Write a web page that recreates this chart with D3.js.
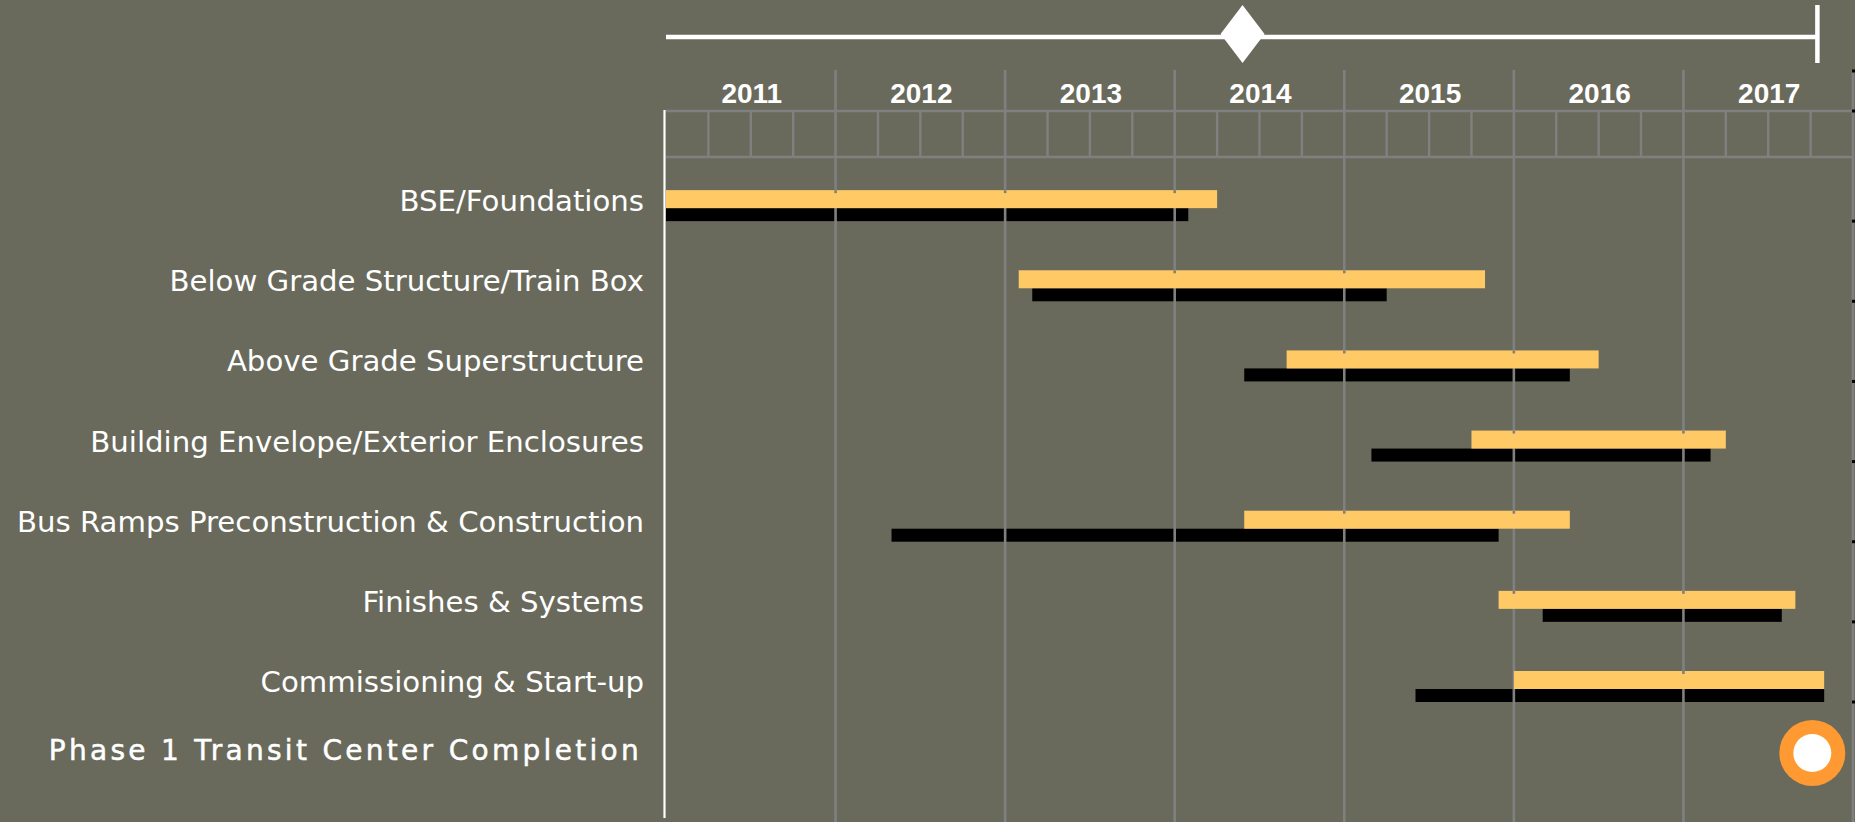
<!DOCTYPE html>
<html><head><meta charset="utf-8">
<script src="https://cdn.jsdelivr.net/npm/d3@7"></script>
<style>html,body{margin:0;padding:0;background:#696a5c;overflow:hidden}</style>
</head><body><svg id="c" width="1855" height="822"></svg>
<script>
// ---- data ----
const years = [2011, 2012, 2013, 2014, 2015, 2016, 2017];
const tasks = [
  "BSE/Foundations",
  "Below Grade Structure/Train Box",
  "Above Grade Superstructure",
  "Building Envelope/Exterior Enclosures",
  "Bus Ramps Preconstruction & Construction",
  "Finishes & Systems",
  "Commissioning & Start-up"
];
// yellow bars (upper)
const yellowStart = [2011.00, 2013.08, 2014.66, 2015.75, 2014.41, 2015.91, 2016.00];
const yellowEnd   = [2014.25, 2015.83, 2016.50, 2017.25, 2016.33, 2017.66, 2017.83];
// black bars (lower)
const blackStart  = [2011.00, 2013.16, 2014.41, 2015.16, 2012.33, 2016.17, 2015.42];
const blackEnd    = [2014.08, 2015.25, 2016.33, 2017.16, 2015.91, 2017.58, 2017.83];
const milestoneLabel = "Phase 1 Transit Center Completion";
const milestoneDate = 2017.76;
const timelineStart = 2011.00;
const timelineEnd = 2017.79;
const statusDate = 2014.40;

// ---- layout ----
const W = 1855, H = 822;
const svg = d3.select("#c");
svg.append("rect").attr("width", W).attr("height", H).attr("fill", "#696a5c");

const x = d3.scaleLinear().domain([2011, 2018]).range([666, 1853]);
const y = d3.scaleBand().domain(tasks).range([141, 702]);
const GRID = "#808080";

const rows = tasks.map((t, i) => ({
  task: t, ys: yellowStart[i], ye: yellowEnd[i], bs: blackStart[i], be: blackEnd[i]
}));

// header quarter grid
const hdrTop = 111, hdrBot = 157;
const g = svg.append("g");
[hdrTop, hdrBot].forEach(yy => {
  g.append("line").attr("x1", x(2011)).attr("x2", x(2018)).attr("y1", yy).attr("y2", yy)
    .attr("stroke", GRID).attr("stroke-width", 2.6);
});
const quarters = d3.range(0, 28).map(i => 2011 + i * 0.25).filter(q => q % 1 !== 0);
g.selectAll(".q").data(quarters).join("line")
  .attr("x1", d => x(d)).attr("x2", d => x(d)).attr("y1", hdrTop).attr("y2", hdrBot)
  .attr("stroke", GRID).attr("stroke-width", 2.4);

// year labels
g.selectAll(".yl").data(years).join("text")
  .attr("x", d => x(d + 0.5) + 1).attr("y", 103)
  .attr("text-anchor", "middle").attr("fill", "#fff")
  .attr("font-family", "'Liberation Sans', Arial, sans-serif")
  .attr("font-weight", "bold").attr("font-size", 28)
  .text(d => d);

// black bars (under gridlines)
svg.append("g").selectAll("rect").data(rows).join("rect")
  .attr("x", d => x(d.bs)).attr("width", d => x(d.be) - x(d.bs))
  .attr("y", d => y(d.task) + y.bandwidth() - 13).attr("height", 13)
  .attr("fill", "#000");

// year gridlines
const yearLines = years.slice(1).concat([2018]);
svg.append("g").selectAll("line").data(yearLines).join("line")
  .attr("x1", d => x(d)).attr("x2", d => x(d)).attr("y1", 70).attr("y2", 822)
  .attr("stroke", GRID).attr("stroke-width", 2.6);

// yellow bars
svg.append("g").selectAll("rect").data(rows).join("rect")
  .attr("x", d => x(d.ys)).attr("width", d => x(d.ye) - x(d.ys))
  .attr("y", d => y(d.task) + y.bandwidth() - 31).attr("height", 18)
  .attr("fill", "#ffca66");

// small gridline notches over the top edge of yellow bars
const notches = [];
rows.forEach(r => yearLines.forEach(yl => { if (yl > r.ys && yl < r.ye) notches.push({ yl, t: r.task }); }));
svg.append("g").selectAll("line").data(notches).join("line")
  .attr("x1", d => x(d.yl)).attr("x2", d => x(d.yl))
  .attr("y1", d => y(d.t) + y.bandwidth() - 31).attr("y2", d => y(d.t) + y.bandwidth() - 28)
  .attr("stroke", GRID).attr("stroke-width", 2.6);

// left white axis
svg.append("line").attr("x1", 664.5).attr("x2", 664.5).attr("y1", 110).attr("y2", 818)
  .attr("stroke", "#fff").attr("stroke-width", 2.2);

// task labels
svg.append("g").selectAll("text").data(rows).join("text")
  .attr("x", 644).attr("y", d => y(d.task) + y.bandwidth() - 10)
  .attr("text-anchor", "end").attr("fill", "#fff")
  .attr("font-family", "'DejaVu Sans', Verdana, sans-serif").attr("font-size", 29.2)
  .text(d => d.task);

// milestone row
const msY = y(tasks[tasks.length - 1]) + y.bandwidth() + 51;
svg.append("text").attr("x", 642).attr("y", msY + 7)
  .attr("text-anchor", "end").attr("fill", "#fff").attr("stroke", "#fff").attr("stroke-width", 0.5)
  .attr("font-family", "'DejaVu Sans', Verdana, sans-serif").attr("font-size", 28)
  .attr("letter-spacing", 3.3).text(milestoneLabel);
svg.append("circle").attr("cx", x(milestoneDate)).attr("cy", msY).attr("r", 33).attr("fill", "#ff9a33");
svg.append("circle").attr("cx", x(milestoneDate)).attr("cy", msY).attr("r", 19).attr("fill", "#fff");

// right edge ticks
const rTicks = [71, 111].concat(tasks.map(t => y(t) + y.bandwidth()));
svg.append("g").selectAll("rect").data(rTicks).join("rect")
  .attr("x", 1852).attr("y", d => d - 1.5).attr("width", 4).attr("height", 3).attr("fill", "#000");

// top timeline
const tl = svg.append("g");
tl.append("line").attr("x1", x(timelineStart)).attr("x2", x(timelineEnd)).attr("y1", 37).attr("y2", 37)
  .attr("stroke", "#fff").attr("stroke-width", 4.5);
tl.append("line").attr("x1", x(timelineEnd)).attr("x2", x(timelineEnd)).attr("y1", 5).attr("y2", 63)
  .attr("stroke", "#fff").attr("stroke-width", 4.5);
const cx = x(statusDate), cy = 34;
tl.append("path").attr("d", `M${cx},${cy - 29}L${cx + 22},${cy}L${cx},${cy + 29}L${cx - 22},${cy}Z`)
  .attr("fill", "#fff");
</script>
</body></html>
